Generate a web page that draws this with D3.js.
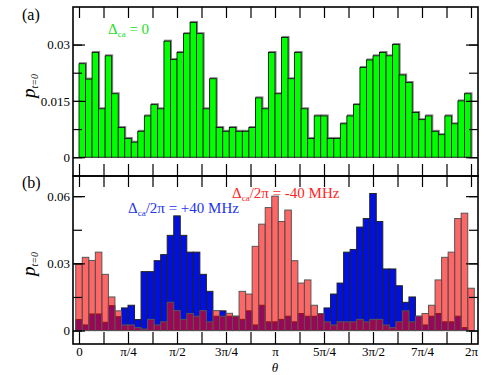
<!DOCTYPE html>
<html>
<head>
<meta charset="utf-8">
<script src="https://cdn.jsdelivr.net/npm/d3@7"></script>
<style>
body { margin: 0; background: #fff; }
svg text { font-family: "Liberation Serif", "DejaVu Serif", "Times New Roman", Times, serif !important; }
</style>
</head>
<body>
<svg id="chart" width="500" height="375" font-family="Liberation Serif"></svg>
<script>
// panel (a): 60 bins, left edge at i*2pi/60
var valuesA = [0.0249,0.0208,0.0279,0.0129,0.027,0.0169,0.0079,0.005,0.004,0.0069,
  0.011,0.014,0.0129,0.0309,0.026,0.0279,0.0329,0.0359,0.0329,0.0129,
  0.0209,0.0079,0.0069,0.0079,0.0069,0.0069,0.0079,0.0158,0.0129,0.0279,
  0.0169,0.0319,0.0209,0.0279,0.0129,0.005,0.011,0.011,0.005,0.005,
  0.0089,0.011,0.014,0.0239,0.0259,0.027,0.0279,0.027,0.03,0.0219,
  0.0199,0.0119,0.01,0.011,0.0069,0.006,0.011,0.0089,0.015,0.0169];

// panel (b): 61 bins centred at k*2pi/60
var valuesRed = [0.0298,0.0327,0.0313,0.035,0.0251,0.015,0.0088,0.0025,0.0025,0.0013,
  0.0007,0.005,0.0025,0.0039,0.0126,0.0089,0.005,0.0076,0.0064,0.0089,
  0.0039,0.0089,0.0064,0.0077,0.0064,0.0175,0.0163,0.0376,0.0475,0.0549,
  0.06,0.0487,0.0538,0.0312,0.0212,0.0226,0.0113,0.0076,0.0039,0.0025,
  0.0039,0.0039,0.0039,0.005,0.0039,0.005,0.005,0.0025,0.0013,0.0039,
  0.0088,0.0039,0.0064,0.0076,0.0113,0.0226,0.0327,0.035,0.05,0.0524,
  0.0189];
var valuesBlue = [0.0049,0.0025,0.0074,0.0074,0.0037,0.0111,0.0062,0.0101,0.0113,0.0049,
  0.0263,0.0263,0.0312,0.0339,0.0425,0.0512,0.0425,0.035,0.035,0.0251,
  0.0175,0.0064,0.0088,0.0064,0.0064,0.005,0.0088,0.0025,0.0113,0.0039,
  0.0039,0.005,0.0064,0.0039,0.0076,0.0064,0.0064,0.0074,0.0101,0.0163,
  0.0212,0.035,0.0362,0.0462,0.05,0.0612,0.0487,0.0275,0.0275,0.02,
  0.0126,0.015,0.0064,0.0025,0.0064,0.0076,0.0039,0.0039,0.0064,0.0013,
  0];

var xTickLabels = ["0","\u03c0/4","\u03c0/2","3\u03c0/4","\u03c0","5\u03c0/4","3\u03c0/2","7\u03c0/4","2\u03c0"];
var yLabelsA = [0, 0.015, 0.03];
var yMinorA = [0, 0.0075, 0.015, 0.0225, 0.03];
var yLabelsB = [0, 0.03, 0.06];
var yMinorB = [0, 0.015, 0.03, 0.045, 0.06];

var serif = "'Liberation Serif', 'DejaVu Serif', serif";
var svg = d3.select("#chart");
var left = 73, right = 478;
var binW = 2 * Math.PI / 60;

var x = d3.scaleLinear().domain([0, 2 * Math.PI]).range([79, 471]);
var yA = d3.scaleLinear().domain([-0.005, 0.04]).range([176, 7]);
var yB = d3.scaleLinear().domain([-0.006, 0.069]).range([344, 176]);

var xMinor = d3.range(17).map(function(i){ return i * Math.PI / 8; });
var xMajor = xTickLabels.map(function(d, i){ return i * Math.PI / 4; });

function cleanAxis(g)
{
    g.select(".domain").remove();
    g.selectAll("line").attr("stroke", "#000").attr("stroke-width", 1.2);
}

function serifText(a)
{
    a.select(".domain").remove();
    a.attr("font-family", serif);
    a.selectAll("text").style("font-size", "13px").attr("fill", "#000");
}

function drawFrame(top, bottom, y, minor, labels)
{
    var g = svg.append("g");

    g.append("g").attr("transform", "translate(0," + top + ")")
    .call(d3.axisTop(x).tickValues(xMinor).tickSize(-11).tickFormat("")).call(cleanAxis);
    g.append("g").attr("transform", "translate(0," + bottom + ")")
    .call(d3.axisBottom(x).tickValues(xMinor).tickSize(-12).tickFormat("")).call(cleanAxis);

    [left, right].forEach(function(px, side){
        var mk = side === 0 ? d3.axisLeft : d3.axisRight;
        g.append("g").attr("transform", "translate(" + px + ",0)")
        .call(mk(y).tickValues(minor).tickSize(-9).tickFormat("")).call(cleanAxis);
        g.append("g").attr("transform", "translate(" + px + ",0)")
        .call(mk(y).tickValues(labels).tickSize(-12).tickFormat("")).call(cleanAxis);
    });

    g.append("g").attr("transform", "translate(" + left + ",0)")
    .call(d3.axisLeft(y).tickValues(labels).tickSize(0).tickPadding(3)
        .tickFormat(function(d){ return String(d); }))
    .call(serifText);

    g.append("rect")
    .attr("x", left).attr("y", top)
    .attr("width", right - left).attr("height", bottom - top)
    .attr("fill", "none").attr("stroke", "#000").attr("stroke-width", 1.6);
}

function yLabel(cx, cy)
{
    var t = svg.append("text")
    .attr("transform", "translate(" + cx + "," + cy + ") rotate(-90)")
    .attr("text-anchor", "middle")
    .attr("font-family", serif)
    .style("font-style", "italic");
    t.append("tspan").style("font-size", "19px").text("p");
    t.append("tspan").style("font-size", "10px").attr("dy", 3).text("t=0");
}

function deltaText(px, py, color, rest)
{
    var t = svg.append("text")
    .attr("x", px).attr("y", py)
    .attr("fill", color)
    .attr("font-family", serif)
    .style("font-size", "15px");
    t.append("tspan").text("\u0394");
    t.append("tspan").style("font-size", "9px").attr("dy", 3).text("ca");
    t.append("tspan").attr("dy", -3).text(rest);
}

// ---- panel (a) bars
var gA = svg.append("g");
gA.selectAll("rect.shadow").data(valuesA).enter().append("rect")
.attr("class", "shadow")
.attr("x", function(d, i){ return x(i * binW) + 0.8; })
.attr("y", function(d){ return yA(d) - 0.8; })
.attr("width", x(binW) - x(0))
.attr("height", function(d){ return yA(0) - yA(d); })
.attr("fill", "none").attr("stroke", "#808080").attr("stroke-width", 1.4);

gA.selectAll("rect.bar").data(valuesA).enter().append("rect")
.attr("class", "bar")
.attr("x", function(d, i){ return x(i * binW); })
.attr("y", function(d){ return yA(d); })
.attr("width", x(binW) - x(0))
.attr("height", function(d){ return yA(0) - yA(d); })
.attr("fill", "#00ff00").attr("stroke", "#000").attr("stroke-width", 0.8);

// ---- panel (b) bars: blue first, translucent red on top
var gB = svg.append("g");
function barsB(data, fill, opacity, stroke)
{
    gB.append("g").selectAll("rect").data(data).enter().append("rect")
    .attr("x", function(d, i){ return x(i * binW - binW / 2); })
    .attr("y", function(d){ return yB(d); })
    .attr("width", x(binW) - x(0))
    .attr("height", function(d){ return yB(0) - yB(d); })
    .attr("fill", fill).attr("fill-opacity", opacity)
    .attr("stroke", stroke).attr("stroke-width", 1);
}
barsB(valuesBlue, "#0010e0", 1, "#222");
barsB(valuesRed, "#ff0000", 0.6, "#555");

drawFrame(7, 176, yA, yMinorA, yLabelsA);
drawFrame(176, 344, yB, yMinorB, yLabelsB);

// x tick labels
svg.append("g").attr("transform", "translate(0,344)")
.call(d3.axisBottom(x).tickValues(xMajor).tickSize(0).tickPadding(3)
    .tickFormat(function(d, i){ return xTickLabels[i]; }))
.call(serifText);

svg.append("text")
.attr("x", x(Math.PI)).attr("y", 371.5)
.attr("text-anchor", "middle")
.attr("font-family", serif)
.style("font-size", "13px").style("font-style", "italic")
.text("\u03b8");

svg.append("text").attr("x", 22).attr("y", 20).attr("font-family", serif).style("font-size", "16px").text("(a)");
svg.append("text").attr("x", 22).attr("y", 188).attr("font-family", serif).style("font-size", "16px").text("(b)");

yLabel(35, 86);
yLabel(35, 264);

deltaText(108, 34, "#22e022", " = 0");
deltaText(128, 212.5, "#2233ee", "/2\u03c0 = +40 MHz");
deltaText(232, 198, "#ff2424", "/2\u03c0 = -40 MHz");
</script>
</body>
</html>
